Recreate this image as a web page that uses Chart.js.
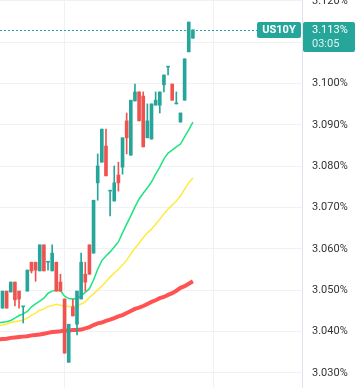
<!DOCTYPE html>
<html>
<head>
<meta charset="utf-8">
<script src="https://cdn.jsdelivr.net/npm/chart.js@4.4.0/dist/chart.umd.min.js"></script>
<style>
    html, body { margin: 0; padding: 0; background: #fff; }
    #wrap { width: 358px; height: 388px; }
</style>
</head>
<body>
<div id="wrap"><canvas id="yieldChart" width="358" height="388"></canvas></div>
<script>
// Nến US10Y (%), mỗi phần tử là một nến
const opens = [3.0457, 3.0498, 3.0496, 3.0520, 3.0498, 3.0460, 3.0498, 3.0568, 3.0568, 3.0547,
    3.0610, 3.0568, 3.0547, 3.0568, 3.0520, 3.0479, 3.0326, 3.0460, 3.0418, 3.0479,
    3.0539, 3.0610, 3.0590, 3.0760, 3.0810, 3.0849, 3.0740, 3.0716, 3.0779, 3.0798,
    3.0910, 3.0827, 3.0958, 3.0980, 3.0970, 3.0869, 3.0866, 3.0948, 3.0948, 3.0997,
    3.1040, 3.0999, 3.0951, 3.0907, 3.0960, 3.1077, 3.1110];
const highs = [3.0498, 3.0498, 3.0520, 3.0520, 3.0498, 3.0460, 3.0549, 3.0568, 3.0568, 3.0610,
    3.0610, 3.0568, 3.0610, 3.0568, 3.0539, 3.0479, 3.0418, 3.0479, 3.0498, 3.0590,
    3.0568, 3.0610, 3.0718, 3.0830, 3.0890, 3.0890, 3.0740, 3.0801, 3.0810, 3.0869,
    3.0929, 3.0960, 3.0999, 3.0980, 3.0980, 3.0951, 3.0951, 3.0980, 3.0980, 3.1021,
    3.1040, 3.0999, 3.0980, 3.0929, 3.1060, 3.1149, 3.1130];
const lows = [3.0457, 3.0457, 3.0496, 3.0462, 3.0457, 3.0421, 3.0498, 3.0542, 3.0522, 3.0547,
    3.0547, 3.0549, 3.0547, 3.0498, 3.0498, 3.0348, 3.0326, 3.0438, 3.0392, 3.0479,
    3.0498, 3.0539, 3.0590, 3.0718, 3.0810, 3.0777, 3.0680, 3.0716, 3.0740, 3.0781,
    3.0830, 3.0827, 3.0958, 3.0910, 3.0847, 3.0869, 3.0866, 3.0948, 3.0929, 3.0980,
    3.1021, 3.0960, 3.0951, 3.0907, 3.0960, 3.1077, 3.1110];
const closes = [3.0498, 3.0457, 3.0520, 3.0477, 3.0479, 3.0460, 3.0549, 3.0547, 3.0549, 3.0610,
    3.0547, 3.0568, 3.0590, 3.0498, 3.0498, 3.0348, 3.0418, 3.0438, 3.0498, 3.0568,
    3.0520, 3.0539, 3.0718, 3.0801, 3.0890, 3.0777, 3.0740, 3.0760, 3.0760, 3.0869,
    3.0869, 3.0960, 3.0980, 3.0910, 3.0847, 3.0910, 3.0951, 3.0960, 3.0980, 3.1021,
    3.1040, 3.0960, 3.0951, 3.0929, 3.1060, 3.1149, 3.1130];

// Đường trung bình, bắt đầu từ nến trước nến đầu tiên (index -1)
const maFast = [3.0422, 3.0423, 3.0424, 3.0427, 3.0433, 3.0439, 3.0443, 3.0449, 3.0460, 3.0467,
    3.0474, 3.0481, 3.0493, 3.0498, 3.0501, 3.0499, 3.0486, 3.0480, 3.0479, 3.0481,
    3.0487, 3.0495, 3.0504, 3.0525, 3.0551, 3.0572, 3.0583, 3.0593, 3.0605, 3.0617,
    3.0639, 3.0660, 3.0680, 3.0702, 3.0721, 3.0735, 3.0748, 3.0762, 3.0781, 3.0798,
    3.0818, 3.0832, 3.0839, 3.0847, 3.0854, 3.0871, 3.0888, 3.0907];
const maMid = [3.0415, 3.0416, 3.0418, 3.0422, 3.0424, 3.0426, 3.0428, 3.0433, 3.0440, 3.0445,
    3.0452, 3.0455, 3.0461, 3.0463, 3.0466, 3.0464, 3.0462, 3.0461, 3.0461, 3.0463,
    3.0467, 3.0472, 3.0483, 3.0491, 3.0501, 3.0510, 3.0521, 3.0532, 3.0542, 3.0551,
    3.0561, 3.0573, 3.0588, 3.0602, 3.0614, 3.0627, 3.0639, 3.0648, 3.0660, 3.0672,
    3.0685, 3.0697, 3.0706, 3.0716, 3.0728, 3.0745, 3.0760, 3.0772];
const maSlow = [3.0381, 3.0382, 3.0383, 3.0385, 3.0386, 3.0387, 3.0388, 3.0389, 3.0391, 3.0392,
    3.0393, 3.0395, 3.0397, 3.0399, 3.0400, 3.0401, 3.0403, 3.0403, 3.0404, 3.0404,
    3.0405, 3.0408, 3.0411, 3.0416, 3.0420, 3.0422, 3.0426, 3.0429, 3.0433, 3.0437,
    3.0440, 3.0445, 3.0450, 3.0455, 3.0458, 3.0462, 3.0467, 3.0472, 3.0476, 3.0481,
    3.0484, 3.0489, 3.0493, 3.0499, 3.0506, 3.0510, 3.0516, 3.0522];

const yTicks = [3.03, 3.04, 3.05, 3.06, 3.07, 3.08, 3.09, 3.10, 3.11, 3.12];
const timeGrid = [14.86, 50.86];   // vạch thời gian (theo index nến)
const symbol = 'US10Y';
const countdown = '03:05';

const UP = '#26a69a';
const DOWN = '#ef5350';

let yieldChart;

function candleColors() {
    return opens.map((o, i) => closes[i] >= o ? UP : DOWN);
}

function maPoints(values) {
    return values.map((v, i) => ({ x: i - 1, y: v }));
}

// Đường giá hiện tại + nhãn bên phải
const priceLabelPlugin = {
    id: 'priceLabel',
    beforeDatasetsDraw(chart) {
        const ctx = chart.ctx;
        const area = chart.chartArea;
        const y = Math.round(chart.scales.y.getPixelForValue(closes[closes.length - 1])) + 0.5;
        ctx.save();
        ctx.strokeStyle = UP;
        ctx.lineWidth = 1;
        ctx.setLineDash([2, 2]);
        ctx.beginPath();
        ctx.moveTo(area.left, y);
        ctx.lineTo(area.right - 45, y);
        ctx.stroke();
        ctx.restore();
    },
    afterDraw(chart) {
        const ctx = chart.ctx;
        const area = chart.chartArea;
        const last = closes[closes.length - 1];
        const y = Math.round(chart.scales.y.getPixelForValue(last));

        ctx.save();
        ctx.fillStyle = UP;
        ctx.beginPath();
        ctx.roundRect(area.right - 45, y - 8, 44, 16, 2);
        ctx.fill();
        ctx.beginPath();
        ctx.roundRect(area.right + 1, y - 8, 52, 30, 2);
        ctx.fill();

        ctx.fillStyle = '#fff';
        ctx.textBaseline = 'middle';
        ctx.textAlign = 'center';
        ctx.font = 'bold 11px Roboto';
        ctx.fillText(symbol, area.right - 23, y + 0.5);

        ctx.textAlign = 'left';
        ctx.font = '11px Roboto';
        ctx.fillText(last.toFixed(3) + '%', area.right + 10, y + 0.5);
        ctx.fillStyle = 'rgba(255,255,255,0.85)';
        ctx.fillText(countdown, area.right + 10, y + 14.5);
        ctx.restore();
    }
};

function drawChart() {
    const ctx = document.getElementById('yieldChart').getContext('2d');
    const colors = candleColors();

    yieldChart = new Chart(ctx, {
        type: 'bar',
        data: {
            datasets: [
                {
                    label: 'wick',
                    data: lows.map((l, i) => ({ x: i, y: [l, highs[i]] })),
                    backgroundColor: colors,
                    barThickness: 1,
                    grouped: false,
                    order: 1
                },
                {
                    label: 'body',
                    data: opens.map((o, i) => ({ x: i, y: [o, closes[i]] })),
                    backgroundColor: colors,
                    barThickness: 3,
                    minBarLength: 1,
                    grouped: false,
                    order: 0
                },
                {
                    type: 'line',
                    label: 'MA slow',
                    data: maPoints(maSlow),
                    borderColor: '#ff5252',
                    borderWidth: 4,
                    pointRadius: 0,
                    tension: 0,
                    order: 2
                },
                {
                    type: 'line',
                    label: 'MA mid',
                    data: maPoints(maMid),
                    borderColor: '#ffeb3b',
                    borderWidth: 1.5,
                    pointRadius: 0,
                    tension: 0,
                    order: 2
                },
                {
                    type: 'line',
                    label: 'MA fast',
                    data: maPoints(maFast),
                    borderColor: '#1de47d',
                    borderWidth: 1.5,
                    pointRadius: 0,
                    tension: 0,
                    order: 2
                }
            ]
        },
        options: {
            responsive: false,
            animation: false,
            devicePixelRatio: 1,
            layout: { padding: 0 },
            plugins: {
                legend: { display: false },
                tooltip: { enabled: false }
            },
            scales: {
                x: {
                    type: 'linear',
                    min: -0.604,
                    max: 72.36,
                    offset: false,
                    afterBuildTicks: s => { s.ticks = timeGrid.map(v => ({ value: v })); },
                    afterFit: s => { s.height = 0; },
                    ticks: { display: false },
                    grid: { color: '#f0f1f4', drawTicks: false, offset: false },
                    border: { display: false }
                },
                y: {
                    position: 'right',
                    min: 3.02637,
                    max: 3.12024,
                    afterBuildTicks: s => { s.ticks = yTicks.map(v => ({ value: v })); },
                    afterFit: s => { s.width = 56; s.paddingTop = 0; s.paddingBottom = 0; },
                    ticks: {
                        padding: 10,
                        color: '#333',
                        font: { family: 'Roboto', size: 11 },
                        callback: v => v.toFixed(3) + '%'
                    },
                    grid: { color: '#f0f1f4', drawTicks: false },
                    border: { color: '#e0e3eb' }
                }
            }
        },
        plugins: [priceLabelPlugin]
    });
}

drawChart();
</script>
</body>
</html>
